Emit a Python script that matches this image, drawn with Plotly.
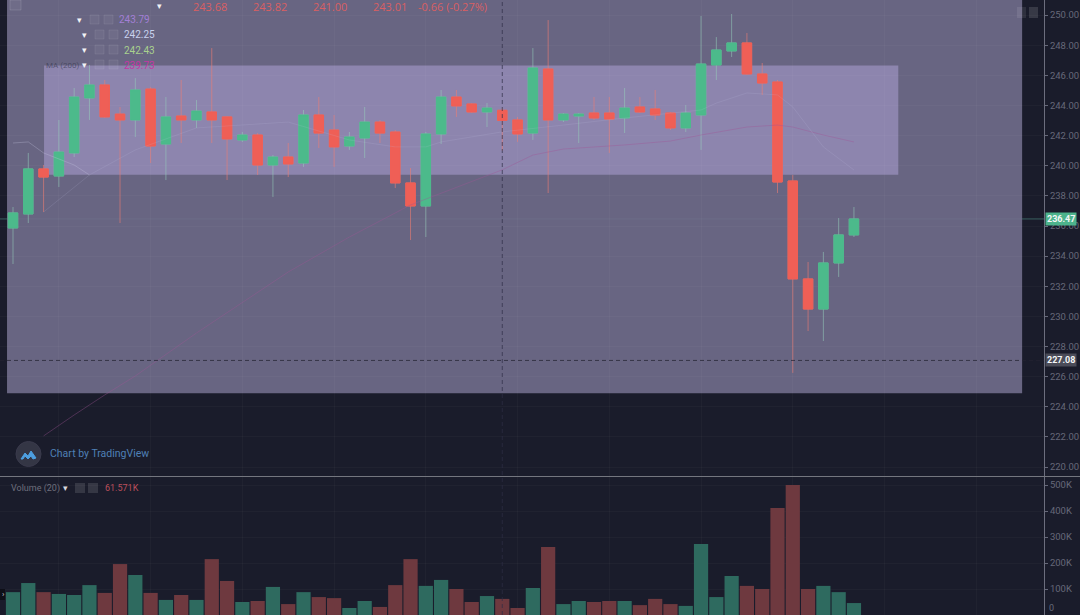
import plotly.graph_objects as go
from plotly.subplots import make_subplots

opens = [235.87,236.80,239.79,239.32,240.85,244.50,245.36,243.43,243.04,245.09,241.44,243.30,243.04,243.57,
         243.24,241.71,242.04,240.05,240.58,240.18,243.37,242.37,241.31,241.84,242.90,242.24,238.86,237.33,
         242.11,244.56,244.10,243.57,243.68,243.04,242.17,246.42,243.04,243.30,243.50,243.50,243.17,243.90,
         243.77,243.50,242.51,243.37,246.69,247.62,248.15,246.09,245.56,238.99,232.49,230.49,233.55,235.41]
highs = [237.26,240.85,240.05,243.04,245.16,246.69,245.69,243.90,245.82,245.23,244.56,245.69,244.36,247.81,
         243.30,242.24,242.17,240.71,241.51,243.70,244.56,243.37,242.24,243.90,243.04,242.37,239.85,242.24,
         245.03,245.03,244.16,244.16,243.82,243.24,247.81,249.67,243.50,243.50,244.56,244.56,245.16,244.56,
         245.03,243.57,244.03,249.94,248.54,250.07,248.81,246.82,245.69,239.39,233.61,234.28,236.53,237.26]
lows = [233.48,236.20,236.93,238.59,240.58,243.04,243.17,236.20,241.91,240.18,239.05,241.51,242.51,241.51,
        239.05,241.58,239.39,237.93,239.25,239.92,241.18,239.92,241.05,240.51,241.51,238.52,235.07,235.27,
        241.44,243.24,243.50,242.57,241.00,241.58,241.71,238.19,242.90,241.51,243.04,240.85,242.17,243.50,
        243.04,242.37,242.24,241.05,245.69,247.22,246.02,244.70,238.19,226.25,229.03,228.37,232.62,235.27]
closes = [236.87,239.79,239.25,240.91,244.56,245.36,243.24,243.04,245.03,241.31,243.24,243.04,243.63,243.04,
          241.78,242.04,240.05,240.58,240.12,243.37,242.17,241.25,241.91,242.90,242.17,238.86,237.33,242.11,
          244.56,243.97,243.57,243.83,243.01,242.11,246.49,243.04,243.43,243.43,243.17,243.10,243.83,243.57,
          243.37,242.51,243.50,246.75,247.68,248.15,246.09,245.49,238.92,232.49,230.49,233.55,235.41,236.47]
volumes = [88,123,88,81,77,115,85,196,154,85,58,77,58,215,131,50,54,108,42,88,69,65,27,54,31,115,215,112,135,
           100,50,73,62,27,104,262,42,54,50,54,54,38,62,42,35,273,69,150,112,100,412,500,100,112,88,46]

ma_long_idx = [2,4,6,8,12,18,22,26,32,34,36,40,43,45,48,50,51,53,55]
ma_long_val = [222.07,223.46,224.79,226.05,228.90,232.95,235.27,237.40,239.73,240.71,241.11,241.38,241.64,
               242.04,242.57,242.70,242.57,242.04,241.58]
ma_mid_idx = [2,5,8,12,18,22,25,27,28,32,36,40,45,46,48,50,51,53,55]
ma_mid_val = [236.93,239.39,241.05,242.51,242.90,241.71,241.25,241.25,241.58,242.25,242.70,243.17,243.70,
              244.16,244.83,244.70,243.90,241.25,239.72]
ma_short_idx = [0,1,2,4,5]
ma_short_val = [241.51,241.58,240.85,240.05,239.39]

price_ticks = list(range(220, 252, 2))
volume_ticks = [100, 200, 300, 400, 500]
volume_labels = ["100K", "200K", "300K", "400K", "500K"]
header_values = ["243.68", "243.82", "241.00", "243.01", "-0.66 (-0.27%)"]
ma_legend = ["243.79", "242.25", "242.43", "239.73"]
last_price = 236.47
low_price = 227.08
crosshair_i = 32

W, H, RIGHT = 1080, 615, 36
PW = W - RIGHT
BG = "#1a1c2b"
AXC = "#666879"
GRID = "rgba(255,255,255,0.028)"
FONT = "Roboto, Lato, sans-serif"
indices = list(range(len(opens)))

def px(x):
    return x / PW

def py(y):
    return 1 - y / H

fig = make_subplots(rows=2, cols=1, shared_xaxes=True, vertical_spacing=0)

# wicks
fig.add_trace(go.Candlestick(
    x=indices, open=opens, high=highs, low=lows, close=closes,
    increasing=dict(fillcolor="rgba(0,0,0,0)", line=dict(color="rgba(150,205,185,0.55)", width=1)),
    decreasing=dict(fillcolor="rgba(0,0,0,0)", line=dict(color="rgba(238,125,115,0.6)", width=1)),
    whiskerwidth=0, showlegend=False, hoverinfo="skip"), row=1, col=1)

for xs, ys, col, w in [(ma_long_idx, ma_long_val, "rgba(160,85,150,0.38)", 1),
                       (ma_mid_idx, ma_mid_val, "rgba(195,195,225,0.15)", 1),
                       (ma_short_idx, ma_short_val, "rgba(200,200,225,0.3)", 1)]:
    fig.add_trace(go.Scatter(x=xs, y=ys, mode="lines", line=dict(color=col, width=w),
                             showlegend=False, hoverinfo="skip"), row=1, col=1)

# bodies
body_hi = [max(o, c) for o, c in zip(opens, closes)]
body_lo = [min(o, c) for o, c in zip(opens, closes)]
fig.add_trace(go.Candlestick(
    x=indices, open=opens, high=body_hi, low=body_lo, close=closes,
    increasing=dict(fillcolor="#4cba8b", line=dict(color="#4cba8b", width=1)),
    decreasing=dict(fillcolor="#ef5f56", line=dict(color="#ef5f56", width=1)),
    whiskerwidth=0, showlegend=False, hoverinfo="skip"), row=1, col=1)

fig.add_trace(go.Bar(
    x=indices, y=[v * 1000 for v in volumes], width=0.93,
    marker=dict(color=["#2e6a5f" if c >= o else "#6e393f" for o, c in zip(opens, closes)], line_width=0),
    showlegend=False, hoverinfo="skip"), row=2, col=1)

fig.update_layout(
    width=W, height=H, autosize=False, paper_bgcolor=BG, plot_bgcolor=BG,
    margin=dict(l=0, r=RIGHT, t=0, b=0), boxgap=0.38, boxgroupgap=0, boxmode="overlay", showlegend=False,
    font=dict(family=FONT, color=AXC, size=9.5),
    xaxis=dict(domain=[0, 1], range=[-0.85, 67.43], rangeslider=dict(visible=False), showticklabels=False,
               tick0=3, dtick=6, showgrid=True, gridcolor=GRID, gridwidth=1, zeroline=False, showline=False),
    xaxis2=dict(domain=[0, 1], range=[-0.85, 67.43], showticklabels=False, tick0=3, dtick=6, showgrid=True,
                gridcolor=GRID, zeroline=False, showline=False, matches="x"),
    yaxis=dict(domain=[1 - 476 / H, 1], range=[219.41, 251.0], side="right", tickvals=price_ticks,
               tickformat=".2f", showgrid=True, gridcolor=GRID, zeroline=False, showline=True,
               linecolor="#6c6e7e", linewidth=1, ticks="outside", ticklen=3, tickcolor=AXC,
               tickfont=dict(color=AXC, size=9.5, family=FONT)),
    yaxis2=dict(domain=[0, 1 - 477 / H], range=[0, 531000], side="right",
                tickvals=[v * 1000 for v in volume_ticks], ticktext=volume_labels, showgrid=True,
                gridcolor=GRID, zeroline=False, showline=True, linecolor="#6c6e7e", linewidth=1,
                ticks="outside", ticklen=3, tickcolor=AXC, tickfont=dict(color=AXC, size=9.5, family=FONT)),
)

# drawing-tool rectangles and lines
fig.add_shape(type="rect", xref="x", yref="y", x0=-0.39, x1=66.0, y0=224.9, y1=251.0, layer="below",
              line_width=0, fillcolor="rgba(113,110,140,0.9)")
fig.add_shape(type="rect", xref="x", yref="y", x0=2.03, x1=57.9, y0=239.4, y1=246.65, layer="below",
              line_width=0, fillcolor="rgba(178,166,218,0.5)")
fig.add_shape(type="line", xref="paper", yref="y", x0=0, x1=1, y0=last_price, y1=last_price, layer="below",
              line=dict(color="rgba(90,165,150,0.5)", width=1))
fig.add_shape(type="line", xref="paper", yref="y", x0=0, x1=1, y0=low_price, y1=low_price, layer="above",
              line=dict(color="rgba(35,35,50,0.75)", width=1, dash="4px,3px"))
fig.add_shape(type="line", xref="x", yref="paper", x0=crosshair_i, x1=crosshair_i, y0=0, y1=1, layer="above",
              line=dict(color="rgba(45,45,70,0.7)", width=1, dash="4px,3px"))
# pane separator
fig.add_shape(type="line", xref="paper", yref="paper", x0=0, x1=W / PW, y0=py(476.5), y1=py(476.5),
              line=dict(color="#74767f", width=1), layer="above")

def label(text, x, y, color, size=10, anchor="left", family=FONT):
    fig.add_annotation(xref="paper", yref="paper", x=px(x), y=py(y), text=text,
                       showarrow=False, xanchor=anchor, yanchor="middle", align=anchor, borderpad=0,
                       font=dict(color=color, size=size, family=family))

def box(x0, y0, x1, y1, fill, line=None):
    fig.add_shape(type="rect", xref="paper", yref="paper", x0=px(x0), x1=px(x1), y0=py(y1), y1=py(y0),
                  fillcolor=fill, line=dict(color=line or fill, width=1 if line else 0), layer="above")

# header row
for txt, x in zip(header_values, [192, 252, 312, 372, 417]):
    label(txt, x, 7, "#d95f63", 11, family="Open Sans")
label("▾", 159, 6, "#f2f2f5", 9, "center")
box(10, 0, 21, 10, "rgba(255,255,255,0.05)", "rgba(255,255,255,0.12)")

# MA legends
ma_colors = ["#a37fd6", "#c8d2ee", "#a8d18e", "#c435a4"]
for txt, col, tri, b1, tx, y in zip(ma_legend, ma_colors, [79, 84, 84, 84], [89, 94, 94, 94],
                                    [118, 123, 123, 123], [20, 35, 50, 65]):
    label("▾", tri, y, "#f2f2f5", 9, "center")
    box(b1 + 1, y - 5, b1 + 10, y + 4, "rgba(255,255,255,0.05)", "rgba(255,255,255,0.07)")
    box(b1 + 15, y - 5, b1 + 24, y + 4, "rgba(255,255,255,0.05)", "rgba(255,255,255,0.07)")
    label(txt, tx, y, col, 10)
label("MA (200)", 45, 66, "rgba(60,60,85,0.7)", 8)

# pane buttons top right
box(1017, 7, 1026, 18, "rgba(255,255,255,0.09)")
box(1029, 7, 1038, 18, "rgba(255,255,255,0.13)")

# price tags
for val, bg in [(last_price, "#4db38c"), (low_price, "#4b4c59")]:
    fig.add_annotation(xref="paper", yref="y", x=1.0005, y=val, text=f"<b>{val:.2f}</b>", showarrow=False,
                       xanchor="left", yanchor="middle", bgcolor=bg, borderpad=1,
                       font=dict(color="#f4f6f6", size=9, family=FONT))

# zero label of the volume scale
label("0", 1048, 608, AXC, 9)

# TradingView badge
fig.add_shape(type="circle", xref="paper", yref="paper", x0=px(16), x1=px(41), y0=py(466.5), y1=py(441.5),
              fillcolor="#343645", line=dict(color="#3a3a4c", width=1), layer="above")
cloud = [(21, 459), (25, 453), (28, 456), (31, 451), (36, 458), (33, 459), (31, 456), (28, 459), (25, 456), (23, 459)]
path = "M " + " L ".join(f"{px(a)},{py(b)}" for a, b in cloud) + " Z"
fig.add_shape(type="path", xref="paper", yref="paper", path=path, fillcolor="#4d9fe0",
              line=dict(color="#4d9fe0", width=1), layer="above")
label("Chart by TradingView", 49, 454, "#4f80b6", 10.5)

# volume legend
label("Volume (20)", 10, 488, "#6e6f7d", 9)
label("▾", 65, 488, "#d8d8de", 9, "center")
box(75, 483, 85, 493, "rgba(255,255,255,0.12)")
box(88, 483, 98, 493, "rgba(255,255,255,0.12)")
label("61.571K", 104, 488, "#bb4f5c", 9)
box(0, 589, 5, 600, "#0e0f18")
label("›", 1, 594, "#c8c8d0", 8)

fig.write_html("out.html", config=dict(displayModeBar=False),
               post_script="document.body.style.margin='0';document.body.style.background='%s';" % BG)
